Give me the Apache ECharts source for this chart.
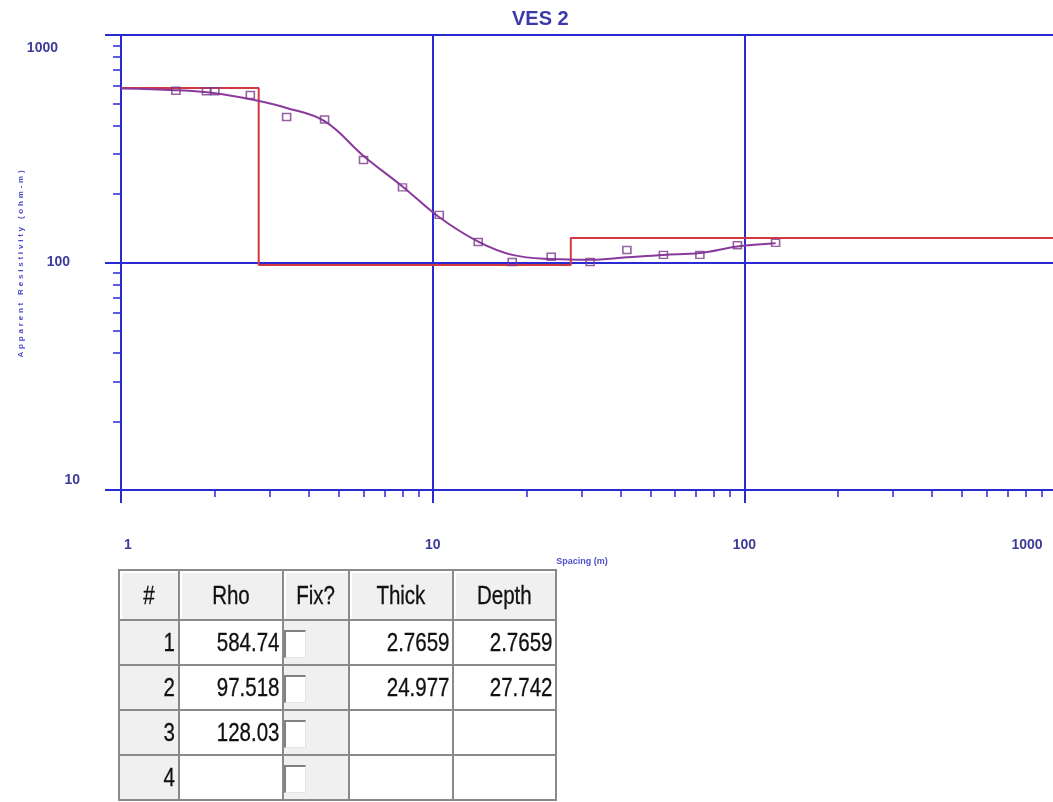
<!DOCTYPE html>
<html>
<head>
<meta charset="utf-8">
<title>VES 2</title>
<script src="https://cdn.jsdelivr.net/npm/echarts@6/dist/echarts.min.js"></script>
<style>
  html, body { margin: 0; padding: 0; background: #fff; }
  #chart { position: absolute; left: 0; top: 0; width: 1053px; height: 802px; }
  #layers {
    position: absolute; left: 118px; top: 569px;
    border-collapse: collapse; table-layout: fixed;
    font-family: "Liberation Sans", Arial, sans-serif;
    font-size: 25px; color: #111;
  }
  #layers td, #layers th {
    border: 2px solid #8a8a8a; padding: 0 3px 0 0; height: 43px;
    text-align: right; font-weight: normal; white-space: nowrap; overflow: hidden;
  }
  #layers th { background: #f0f0f0; text-align: center; height: 48px; padding: 0; box-shadow: inset 2px 2px 0 #fff; }
  #layers td.grey { background: #f0f0f0; }
  #layers td.fix { background: #f0f0f0; text-align: left; padding: 0; vertical-align: middle; }
  /* narrow look of the original grid font */
  .n { display: inline-block; transform: scaleX(0.82); transform-origin: right center; -webkit-text-stroke: 0.3px #111; }
  th .n { transform-origin: center center; }
  .box {
    display: inline-block; width: 19px; height: 25px; background: #fff; vertical-align: middle;
    border-top: 2px solid #808080; border-left: 2px solid #808080;
    border-right: 1px solid #e4e4e4; border-bottom: 1px solid #e4e4e4;
  }
</style>
</head>
<body>
<div id="chart"></div>
<table id="layers">
  <colgroup>
    <col style="width:60px"><col style="width:104px"><col style="width:66px"><col style="width:104px"><col style="width:103px">
  </colgroup>
  <thead><tr id="head"></tr></thead>
  <tbody id="rows"></tbody>
</table>
<script>
// layer model (from the table)
const layerNo = [1, 2, 3, 4]
const layerRho = [584.74, 97.518, 128.03, null]
const layerThick = ['2.7659', '24.977', '', '']
const layerDepth = ['2.7659', '27.742', '', '']
const rhoText = ['584.74', '97.518', '128.03', '']
const tableHead = ['#', 'Rho', 'Fix?', 'Thick', 'Depth']

// field measurements, spacing (m) / apparent resistivity (ohm-m)
const fieldX = [1.5, 1.88, 2.0, 2.6, 3.4, 4.5, 6.0, 8.0, 10.5, 14, 18, 24, 32, 42, 55, 72, 95, 126]
const fieldY = [569, 566, 566, 545, 436, 425, 282, 214, 162, 123, 100.5, 106, 100.5, 113.5, 108, 108, 119, 122]

// fitted curve
const curveX = [1, 1.5, 2.0, 2.6, 3.4, 4.5, 6.0, 8.0, 10.5, 14, 18, 24, 32, 42, 55, 72, 95, 126]
const curveY = [582, 572, 555, 522, 478, 418, 294, 216, 158, 123.5, 108, 103.6, 102.8, 105.4, 108, 110, 117.5, 121.5]

// axis ticks
const xMajor = [1, 10, 100, 1000]
const xMinor = [2, 3, 4, 5, 6, 7, 8, 9, 20, 30, 40, 50, 60, 70, 80, 90, 200, 300, 400, 500, 600, 700, 800, 900]
const yMinor = [20, 30, 40, 50, 60, 70, 80, 90, 200, 300, 400, 500, 600, 700, 800, 900]

const blue = '#2a2ad2'
const labelBlue = '#3c3c98'

// step line of the layered model
const modelData = []
let layerTop = xMajor[0]
for (let i = 0; i < 3; i++) {
  const layerBottom = i < 2 ? parseFloat(layerDepth[i]) : xMajor[xMajor.length - 1]
  modelData.push([layerTop, layerRho[i]], [layerBottom, layerRho[i]])
  layerTop = layerBottom
}

const yName = 'Apparent Resistivity (ohm-m)'.split('').map(c => '{c|' + c + '}').join('')

const myChart = echarts.init(document.getElementById('chart'))
myChart.setOption({
  animation: false,
  backgroundColor: '#fff',
  title: {
    text: 'VES 2',
    left: 512,
    top: 9,
    padding: 0,
    textStyle: { color: '#3a3aaa', fontSize: 20, fontWeight: 'bold', fontFamily: 'Liberation Sans' }
  },
  // plot runs a little past the right edge, 1000 sits just outside
  grid: { left: 121, top: 35, width: 935, bottom: 312, outerBoundsMode: 'none', containLabel: false },
  xAxis: [{
    type: 'log',
    logBase: 10,
    min: 1,
    max: 1000,
    position: 'bottom',
    name: 'Spacing (m)',
    nameLocation: 'middle',
    nameGap: 67,
    nameMoveOverlap: false,
    nameTextStyle: { color: '#5050cc', fontSize: 9, fontWeight: 'bold', fontFamily: 'Liberation Sans', padding: [0, 13, 0, 0] },
    axisLine: { lineStyle: { color: blue, width: 2 } },
    axisTick: { length: 13, lineStyle: { color: blue, width: 2 } },
    splitLine: { show: true, lineStyle: { color: blue, width: 2 } },
    axisLabel: {
      margin: 48,
      showMinLabel: true,
      showMaxLabel: true,
      color: labelBlue,
      fontSize: 14,
      fontWeight: 'bold',
      fontFamily: 'Liberation Sans',
      formatter: v => v === 1 ? '{lo|1}' : v === 1000 ? '{hi|1000}' : '{m|' + v + '}',
      rich: {
        lo: { padding: [0, 0, 0, 14], color: labelBlue, fontSize: 14, fontWeight: 'bold' },
        hi: { padding: [0, 58, 0, 0], color: labelBlue, fontSize: 14, fontWeight: 'bold' },
        m: { color: labelBlue, fontSize: 14, fontWeight: 'bold' }
      }
    }
  }, {
    // minor ticks only, in log10 units
    type: 'value',
    min: 0,
    max: 3,
    position: 'bottom',
    axisLine: { show: false },
    axisLabel: { show: false },
    splitLine: { show: false },
    axisTick: { length: 7, customValues: xMinor.map(Math.log10), lineStyle: { color: blue, width: 1.5 } }
  }],
  yAxis: [{
    type: 'log',
    logBase: 10,
    min: 10,
    max: 1000,
    position: 'left',
    name: yName,
    nameLocation: 'middle',
    nameGap: 96,
    nameMoveOverlap: false,
    nameTextStyle: {
      rich: { c: { color: '#4848cc', fontSize: 8, fontWeight: 'bold', fontFamily: 'Liberation Sans', padding: [0, 2.8, 0, 0] } }
    },
    axisLine: { lineStyle: { color: blue, width: 2 } },
    axisTick: { length: 16, lineStyle: { color: blue, width: 2 } },
    splitLine: { show: true, lineStyle: { color: blue, width: 2 } },
    axisLabel: {
      margin: 41,
      showMinLabel: true,
      showMaxLabel: true,
      formatter: v => v === 1000 ? '{hi|1000}' : v === 10 ? '{lo|10}' : '{m|' + v + '}',
      rich: {
        hi: { padding: [26, 22, 0, 0], color: labelBlue, fontSize: 14, fontWeight: 'bold', fontFamily: 'Liberation Sans' },
        m: { padding: [0, 10, 0, 0], color: labelBlue, fontSize: 14, fontWeight: 'bold', fontFamily: 'Liberation Sans' },
        lo: { padding: [0, 0, 20, 0], color: labelBlue, fontSize: 14, fontWeight: 'bold', fontFamily: 'Liberation Sans' }
      }
    }
  }, {
    type: 'value',
    min: 1,
    max: 3,
    position: 'left',
    axisLine: { show: false },
    axisLabel: { show: false },
    splitLine: { show: false },
    axisTick: { length: 8, customValues: yMinor.map(Math.log10), lineStyle: { color: blue, width: 1.5 } }
  }],
  series: [
    {
      name: 'model',
      type: 'line',
      data: modelData,
      symbol: 'none',
      lineStyle: { color: '#d23840', width: 2 },
      z: 3
    },
    {
      name: 'fit',
      type: 'line',
      data: curveX.map((x, i) => [x, curveY[i]]),
      smooth: 0.4,
      symbol: 'none',
      lineStyle: { color: '#8a3a9c', width: 2 },
      z: 4
    },
    {
      name: 'field',
      type: 'scatter',
      data: fieldX.map((x, i) => [x, fieldY[i]]),
      symbol: 'rect',
      symbolSize: [8, 7],
      itemStyle: { color: 'rgba(255,255,255,0)', borderColor: '#7a3a8c', borderWidth: 1.5 },
      z: 5
    }
  ]
})

// layer table
const cell = t => t === '' ? '' : '<span class="n">' + t + '</span>'
document.getElementById('head').innerHTML = tableHead.map(h => '<th>' + cell(h) + '</th>').join('')
document.getElementById('rows').innerHTML = layerNo.map((n, i) =>
  '<tr><td class="grey">' + cell(String(n)) + '</td><td>' + cell(rhoText[i]) + '</td><td class="fix"><span class="box"></span></td>' +
  '<td>' + cell(layerThick[i]) + '</td><td>' + cell(layerDepth[i]) + '</td></tr>'
).join('')
</script>
</body>
</html>
